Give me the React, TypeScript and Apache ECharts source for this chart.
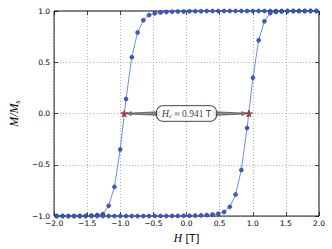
import React, { useEffect, useRef } from "react";
import * as echarts from "echarts";

// Applied field grid (T)
const H = [
  -1.96, -1.872, -1.785, -1.698, -1.611, -1.524, -1.437, -1.35, -1.263, -1.176, -1.089, -1.002,
  -0.914, -0.827, -0.74, -0.653, -0.566, -0.479, -0.392, -0.305, -0.218, -0.131, -0.044,
  0.044, 0.131, 0.218, 0.305, 0.392, 0.479, 0.566, 0.653, 0.74, 0.827, 0.914, 1.002, 1.089,
  1.176, 1.263, 1.35, 1.437, 1.524, 1.611, 1.698, 1.785, 1.872, 1.96,
];

// Descending branch (left loop edge)
const upperM = [
  -1.0, -1.0, -1.0, -1.0, -0.999, -0.998, -0.995, -0.99, -0.98, -0.9, -0.715, -0.35,
  0.141, 0.55, 0.79, 0.91, 0.96, 0.977, 0.985, 0.99, 0.993, 0.995, 0.996,
  0.997, 0.998, 0.998, 0.999, 0.999, 0.999, 1.0, 1.0, 1.0, 1.0, 1.0, 1.0, 1.0,
  1.0, 1.0, 1.0, 1.0, 1.0, 1.0, 1.0, 1.0, 1.0, 1.0,
];

// Ascending branch (right loop edge)
const lowerM = [
  -1.0, -1.0, -1.0, -1.0, -1.0, -1.0, -1.0, -1.0, -1.0, -1.0, -1.0, -1.0,
  -1.0, -1.0, -1.0, -1.0, -1.0, -0.999, -0.999, -0.999, -0.998, -0.998, -0.997,
  -0.996, -0.995, -0.993, -0.99, -0.985, -0.977, -0.96, -0.91, -0.79, -0.55, -0.141, 0.35, 0.715,
  0.9, 0.98, 0.99, 0.995, 0.998, 0.999, 1.0, 1.0, 1.0, 1.0,
];

const HC = 0.941;
const coercive = [[-HC, 0], [HC, 0]];
const labelAt = [0, 0];
const arrowStartH = 0.41;
const arrows = [
  [-arrowStartH, 0, -HC, 0],
  [arrowStartH, 0, HC, 0],
];

const xTicks = { min: -2, max: 2, interval: 0.5 };
const yTicks = { min: -1, max: 1, interval: 0.5 };

const STAR =
  "path://M50,0 L61,35 L98,35 L68,57 L79,91 L50,70 L21,91 L32,57 L2,35 L39,35 Z";

const fmt = (v: number) => (v < 0 ? "\u2212" : "") + Math.abs(v).toFixed(1);

export default function App() {
  const ref = useRef<HTMLDivElement>(null);
  useEffect(() => {
    if (!ref.current) return;
    const chart = echarts.init(ref.current, undefined, { renderer: "svg" });
    const sans = "DejaVu Sans";
    const serif = "Liberation Serif";
    const tickLabel = { fontFamily: sans, fontSize: 7.5, color: "#000" };
    const axisTick = { show: true, inside: true, length: 4, lineStyle: { color: "#000", width: 0.7 } };
    const splitLine = { show: true, lineStyle: { color: "#9a9a9a", width: 0.8, type: [1, 2] as any } };
    const axisLine = { show: false, onZero: false };

    const zipped = (m: number[]) => H.map((h, i) => [h, m[i]]);
    const lineSeries = (m: number[]) => ({
      type: "line",
      data: zipped(m),
      symbol: "circle",
      symbolSize: 4,
      showSymbol: true,
      clip: false,
      itemStyle: { color: "#3a5ccc", borderColor: "#1a2a66", borderWidth: 0.5 },
      lineStyle: { color: "#5d80ea", width: 0.9 },
      z: 3,
    });

    chart.setOption({
      animation: false,
      backgroundColor: "#fff",
      grid: { left: 43, right: 13, top: 11, bottom: 32, show: true, borderColor: "#000", borderWidth: 1, backgroundColor: "transparent" },
      xAxis: [
        {
          type: "value",
          ...xTicks,
          position: "bottom",
          axisLine,
          axisTick,
          axisLabel: { ...tickLabel, margin: 3, formatter: fmt },
          splitLine,
          name: "{i|H} {n|[T]}",
          nameLocation: "middle",
          nameGap: 10,
          nameTextStyle: {
            rich: {
              i: { fontFamily: serif, fontStyle: "italic", fontSize: 11.5, color: "#000" },
              n: { fontFamily: sans, fontSize: 10, color: "#000" },
            },
          },
        },
        {
          type: "value",
          ...xTicks,
          position: "top",
          axisLine,
          axisTick,
          axisLabel: { show: false },
          splitLine: { show: false },
        },
      ],
      yAxis: [
        {
          type: "value",
          ...yTicks,
          position: "left",
          axisLine,
          axisTick,
          axisLabel: { ...tickLabel, margin: 4, formatter: fmt },
          splitLine,
          name: "{i|M/M}{s|s}",
          nameLocation: "middle",
          nameRotate: 90,
          nameGap: 27,
          nameTextStyle: {
            rich: {
              i: { fontFamily: serif, fontStyle: "italic", fontSize: 12, color: "#000", lineHeight: 14 },
              s: { fontFamily: serif, fontStyle: "italic", fontSize: 8, color: "#000", verticalAlign: "bottom", lineHeight: 8 },
            },
          },
        },
        {
          type: "value",
          ...yTicks,
          position: "right",
          axisLine,
          axisTick,
          axisLabel: { show: false },
          splitLine: { show: false },
        },
      ],
      series: [
        lineSeries(upperM),
        lineSeries(lowerM),
        {
          type: "custom",
          coordinateSystem: "cartesian2d",
          data: arrows,
          encode: { x: [0, 2], y: [1, 3] },
          z: 5,
          clip: false,
          renderItem: (_p: any, api: any) => {
            const s = api.coord([api.value(0), api.value(1)]);
            const t0 = api.coord([api.value(2), api.value(3)]);
            const dx = t0[0] - s[0];
            const dy = t0[1] - s[1];
            const L = Math.hypot(dx, dy) || 1;
            const ux = dx / L, uy = dy / L;
            const nx = -uy, ny = ux;
            const t = [t0[0] - ux * 2.5, t0[1] - uy * 2.5];
            const hb = [t[0] - ux * 4.5, t[1] - uy * 4.5];
            const hw0 = 1.9, hw1 = 0.5, hh = 1.9;
            const pts = [
              [s[0] + nx * hw0, s[1] + ny * hw0],
              [hb[0] + nx * hw1, hb[1] + ny * hw1],
              [hb[0] + nx * hh, hb[1] + ny * hh],
              t,
              [hb[0] - nx * hh, hb[1] - ny * hh],
              [hb[0] - nx * hw1, hb[1] - ny * hw1],
              [s[0] - nx * hw0, s[1] - ny * hw0],
            ];
            return { type: "polygon", shape: { points: pts }, style: { fill: "#8c8c8c", stroke: "#2a2a2a", lineWidth: 0.6 } };
          },
        },
        {
          type: "scatter",
          data: coercive,
          symbol: STAR,
          symbolSize: 7,
          itemStyle: { color: "#c8102e", borderColor: "#4a0010", borderWidth: 0.6 },
          z: 6,
        },
        {
          type: "scatter",
          data: [labelAt],
          symbolSize: 1,
          itemStyle: { color: "rgba(0,0,0,0)" },
          z: 7,
          label: {
            show: true,
            position: "inside",
            formatter: "{i|H}{s|c}{t| \u2248 0.941 }{u|T}",
            backgroundColor: "#fff",
            borderColor: "#000",
            borderWidth: 0.8,
            borderRadius: 6,
            padding: [2, 5, 2, 5],
            rich: {
              i: { fontFamily: serif, fontStyle: "italic", fontSize: 10, color: "#000", lineHeight: 11 },
              s: { fontFamily: serif, fontStyle: "italic", fontSize: 7, color: "#000", verticalAlign: "bottom", lineHeight: 7 },
              t: { fontFamily: serif, fontSize: 9.5, color: "#000", lineHeight: 11 },
              u: { fontFamily: sans, fontSize: 9, color: "#000", lineHeight: 11 },
            },
          },
        },
      ],
    });
    return () => chart.dispose();
  }, []);
  return (
    <div
      ref={ref}
      style={{ position: "absolute", left: 0, top: 0, width: 332, height: 249, background: "#fff" }}
    />
  );
}
